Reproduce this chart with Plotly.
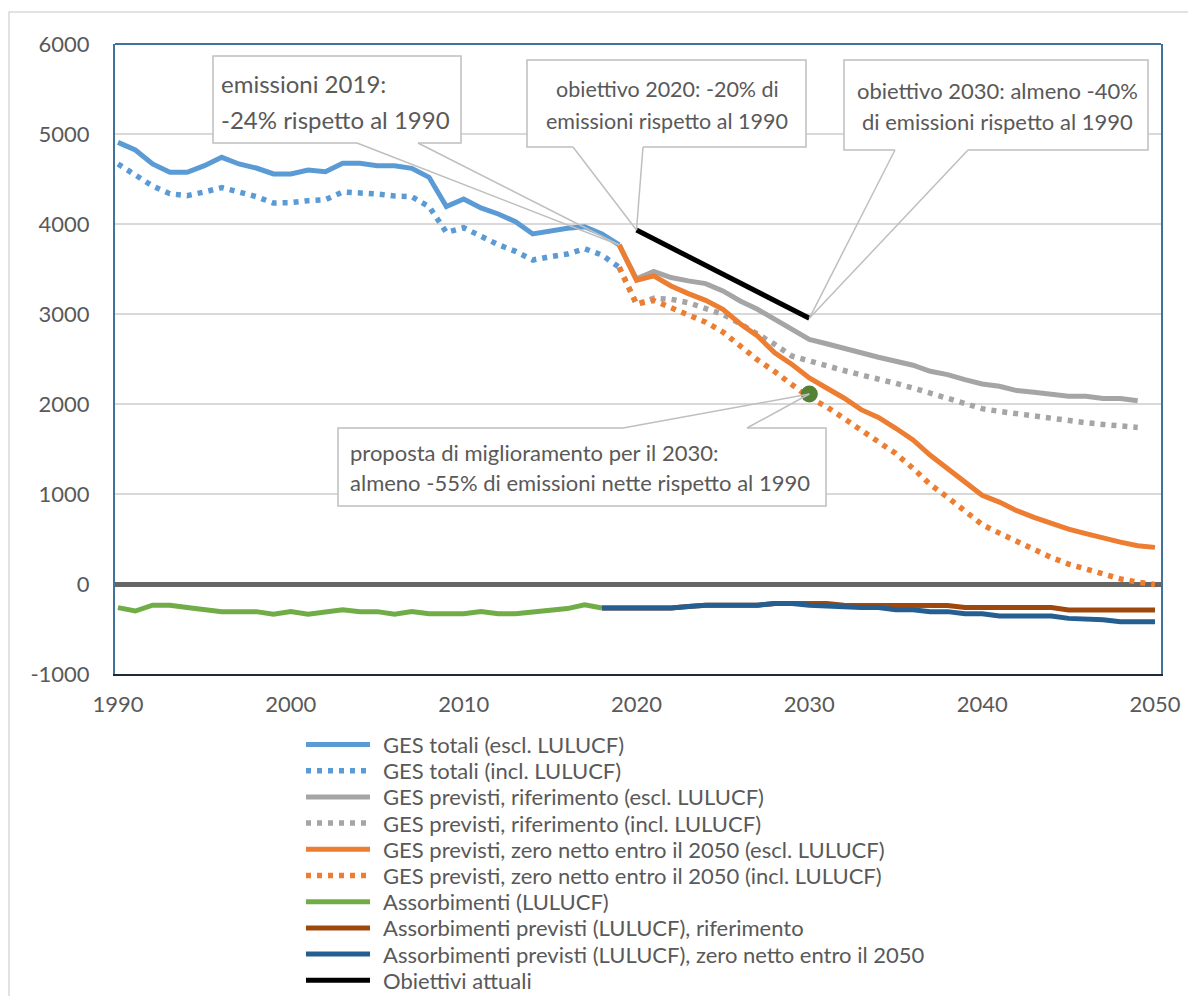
import plotly.graph_objects as go

# ---------------- data ----------------
anni_storici = list(range(1990, 2020))
ges_totali_escl = [4907, 4822, 4667, 4574, 4574, 4648, 4741, 4667, 4622, 4556,
                   4556, 4600, 4581, 4674, 4674, 4648, 4648, 4619, 4519, 4193,
                   4278, 4178, 4111, 4026, 3889, 3926, 3952, 3970, 3889, 3767]
ges_totali_incl = [4667, 4537, 4422, 4337, 4315, 4356, 4404, 4356, 4304, 4233,
                   4237, 4259, 4270, 4356, 4352, 4333, 4311, 4304, 4193, 3907,
                   3959, 3863, 3770, 3696, 3600, 3637, 3667, 3726, 3656, 3519]

anni_rif = list(range(2019, 2050))
rif_escl = [3767, 3390, 3472, 3405, 3368, 3338, 3257, 3145, 3052, 2941, 2829,
            2717, 2669, 2625, 2569, 2520, 2476, 2431, 2364, 2327, 2271,
            2223, 2197, 2149, 2130, 2112, 2086, 2086, 2060, 2060, 2037]
rif_incl = [3519, 3108, 3175, 3164, 3126, 3063, 2996, 2892, 2781, 2662, 2532,
            2476, 2416, 2372, 2323, 2283, 2230, 2178, 2123, 2059, 2007,
            1948, 1918, 1892, 1855, 1833, 1807, 1792, 1773, 1758, 1740]

anni_zero = list(range(2019, 2051))
zero_escl = [3767, 3375, 3424, 3312, 3227, 3152, 3052, 2892, 2755, 2569, 2439,
             2290, 2178, 2067, 1937, 1850, 1730, 1600, 1430, 1280, 1130,
             985, 910, 815, 740, 670, 610, 560, 510, 465, 425, 407]
zero_incl = [3519, 3112, 3150, 3070, 2975, 2910, 2800, 2640, 2490, 2360, 2220,
             2070, 1970, 1844, 1705, 1586, 1450, 1285, 1105, 963, 807,
             660, 565, 477, 381, 295, 222, 165, 104, 57, 20, -5]

anni_assorb = list(range(1990, 2019))
assorbimenti = [-262, -300, -236, -236, -262, -285, -307, -307, -307, -337,
                -307, -337, -307, -285, -307, -307, -337, -307, -330, -330,
                -330, -307, -330, -330, -307, -285, -273, -232, -266]

anni_assorb_prev = list(range(2018, 2051))
assorb_rif = [-266, -266, -266, -266, -266, -250, -236, -236, -236, -236, -217,
              -217, -217, -217, -236, -236, -236, -236, -236, -236, -240,
              -262, -262, -262, -262, -262, -262, -288, -288, -288, -288, -288, -288]
assorb_zero = [-266, -266, -266, -266, -266, -250, -236, -236, -236, -236, -217,
               -217, -236, -243, -262, -262, -262, -285, -285, -307, -307,
               -330, -330, -356, -356, -356, -356, -382, -385, -397, -419, -419, -419]

anni_obiettivi = list(range(2020, 2031))
obiettivi = [3933, 3835, 3738, 3640, 3540, 3445, 3345, 3245, 3150, 3050, 2952]

anno_proposta = [2030]
proposta = [2111]

nomi = ["GES totali (escl. LULUCF)",
        "GES totali (incl. LULUCF)",
        "GES previsti, riferimento (escl. LULUCF)",
        "GES previsti, riferimento (incl. LULUCF)",
        "GES previsti, zero netto entro il 2050 (escl. LULUCF)",
        "GES previsti, zero netto entro il 2050 (incl. LULUCF)",
        "Assorbimenti (LULUCF)",
        "Assorbimenti previsti (LULUCF), riferimento",
        "Assorbimenti previsti (LULUCF), zero netto entro il 2050",
        "Obiettivi attuali"]

x_ticks = [1990, 2000, 2010, 2020, 2030, 2040, 2050]
y_ticks = [-1000, 0, 1000, 2000, 3000, 4000, 5000, 6000]
y_tick_labels = ["-1000", "0", "1000", "2000", "3000", "4000", "5000", "6000"]

# ---------------- styling ----------------
FONT = "Lato, 'Open Sans', sans-serif"
TXT = "#595959"
OFF = 8                      # page body margin of the html page
W, H = 1196 - OFF, 996 - OFF
L, R, T, B = 115, 1161, 44, 674      # plot area in reference pixels
DOT = "5px,6px"


def xd(px):
    return 1990 + (px - 118) / 17.283


def yd(py):
    return (584 - py) / 0.09


def xp(px):
    return (px - L) / (R - L)


def yp(py):
    return (B - py) / (B - T)


XMIN, XMAX = xd(L), xd(R)

fig = go.Figure()
series = [
    (anni_storici, ges_totali_escl, "#5B9BD5", None),
    (anni_storici, ges_totali_incl, "#5B9BD5", DOT),
    (anni_rif, rif_escl, "#A5A5A5", None),
    (anni_rif, rif_incl, "#A5A5A5", DOT),
    (anni_zero, zero_escl, "#ED7D31", None),
    (anni_zero, zero_incl, "#ED7D31", DOT),
    (anni_assorb, assorbimenti, "#70AD47", None),
    (anni_assorb_prev, assorb_rif, "#9E480E", None),
    (anni_assorb_prev, assorb_zero, "#255E91", None),
    (anni_obiettivi, obiettivi, "#000000", None),
]
for name, (xs, ys, col, dash) in zip(nomi, series):
    fig.add_trace(go.Scatter(
        x=xs, y=ys, name=name, mode="lines", showlegend=False,
        line=dict(color=col, width=5 if dash is None else 5.5,
                  dash=dash if dash else "solid"),
        hoverinfo="skip"))

fig.add_trace(go.Scatter(
    x=anno_proposta, y=proposta, mode="markers", showlegend=False,
    marker=dict(color="#548235", size=17), hoverinfo="skip"))

shapes = []
annotations = []

# ---------------- legend (drawn as shapes + text) ----------------
for i, (name, (_, _, col, dash)) in enumerate(zip(nomi, series)):
    ly = 744.5 + i * 26.2
    shapes.append(dict(type="line", xref="paper", yref="paper",
                       x0=xp(306), x1=xp(370), y0=yp(ly), y1=yp(ly),
                       line=dict(color=col, width=5 if dash is None else 5.5,
                                 dash=dash if dash else "solid")))
    annotations.append(dict(x=xp(381), y=yp(ly), xref="paper", yref="paper",
                            text=name, showarrow=False, xanchor="left", yanchor="middle",
                            font=dict(family=FONT, size=22, color=TXT)))

# ---------------- callouts ----------------
BORDER = "#BFBFBF"


def callout(bx0, bx1, by0, by1, base, tip, lines, align, tx, tys, fs):
    shapes.append(dict(type="rect", xref="x", yref="y",
                       x0=xd(bx0), x1=xd(bx1), y0=yd(by0), y1=yd(by1),
                       fillcolor="white", line=dict(color=BORDER, width=1.5),
                       layer="above"))
    (b1, b2, by) = base
    shapes.append(dict(type="line", xref="x", yref="y",
                       x0=xd(b1), x1=xd(b2), y0=yd(by), y1=yd(by),
                       line=dict(color="white", width=3), layer="above"))
    for b in (b1, b2):
        shapes.append(dict(type="line", xref="x", yref="y",
                           x0=xd(b), y0=yd(by), x1=tip[0], y1=tip[1],
                           line=dict(color=BORDER, width=1.5), layer="above"))
    for text, ty in zip(lines, tys):
        annotations.append(dict(
            x=xd(tx), y=yd(ty), xref="x", yref="y", text=text, showarrow=False,
            xanchor=align, yanchor="middle",
            font=dict(family=FONT, size=fs, color=TXT)))


callout(213, 461, 56, 143, (357, 418, 143), (anni_storici[-1], ges_totali_escl[-1]),
        ["emissioni 2019:", "-24% rispetto al 1990"], "left", 219, [83, 119], 24)
callout(527, 806, 60, 147, (573, 643, 147), (anni_obiettivi[0], obiettivi[0]),
        ["obiettivo 2020: -20% di", "emissioni rispetto al 1990"], "center", 667, [89, 121], 21.5)
callout(844, 1148, 60, 150, (895, 968, 150), (anni_obiettivi[-1], obiettivi[-1]),
        ["obiettivo 2030: almeno -40%", "di emissioni rispetto al 1990"], "center", 997, [90, 121], 22)
callout(338, 826, 428, 506, (623, 747, 428), (anno_proposta[0], proposta[0]),
        ["proposta di miglioramento per il 2030:", "almeno -55% di emissioni nette rispetto al 1990"],
        "left", 348, [452, 482], 22)

# top frame line (blue) and outer chart border
shapes.append(dict(type="line", xref="paper", yref="paper", x0=0, x1=1, y0=1, y1=1,
                   line=dict(color="#41719C", width=2), layer="above"))
shapes.append(dict(type="rect", xref="paper", yref="paper",
                   x0=xp(9), x1=xp(1194), y0=yp(1000), y1=yp(12),
                   line=dict(color="#D9D9D9", width=1.5), fillcolor="rgba(0,0,0,0)",
                   layer="below"))

fig.update_layout(
    width=W, height=H,
    margin=dict(l=L - OFF, r=W - (R - OFF), t=T - OFF, b=H - (B - OFF), pad=0,
                autoexpand=False),
    paper_bgcolor="white", plot_bgcolor="white",
    font=dict(family=FONT, color=TXT),
    shapes=shapes, annotations=annotations,
    showlegend=False,
    xaxis=dict(range=[XMIN, XMAX], tickvals=x_ticks,
               showgrid=False, zeroline=False, showline=True, linecolor="#1E2A3A",
               linewidth=2, ticks="", tickfont=dict(family=FONT, size=22, color=TXT),
               ticklabelstandoff=10),
    yaxis=dict(range=[-1000, 6000], tickvals=y_ticks, ticktext=y_tick_labels,
               showgrid=True, gridcolor="#D9D9D9", gridwidth=1.5,
               zeroline=True, zerolinecolor="#666666", zerolinewidth=5,
               showline=True, linecolor="#41719C", linewidth=2, mirror=True,
               ticks="", tickfont=dict(family=FONT, size=22, color=TXT),
               ticklabelstandoff=19),
)

fig.write_html("out.html")
